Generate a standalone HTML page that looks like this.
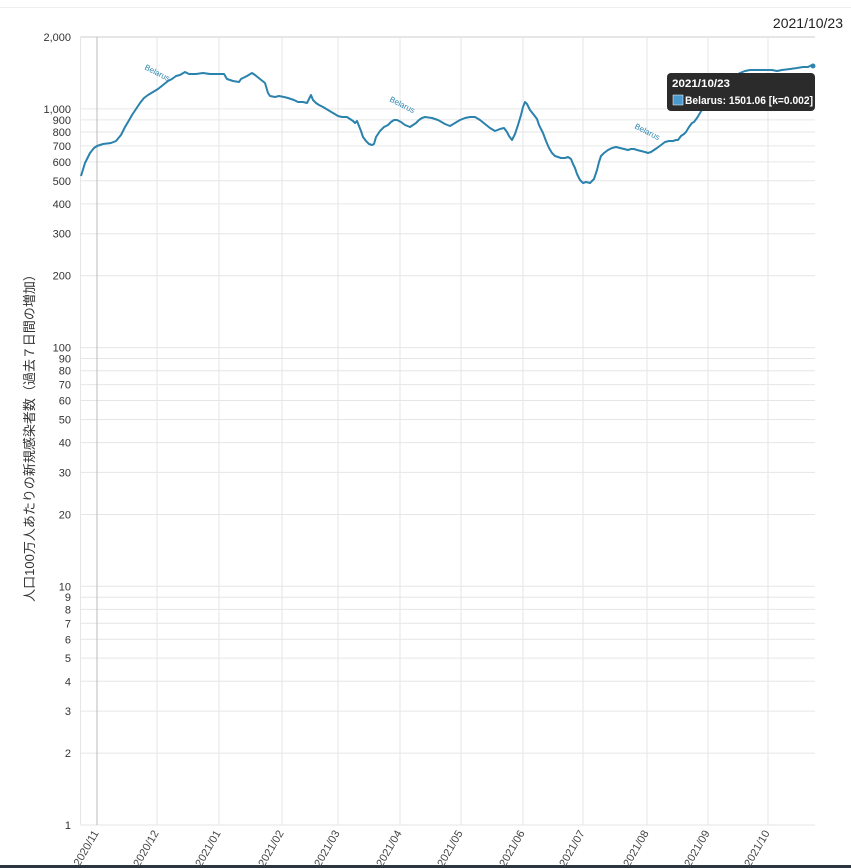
<!DOCTYPE html>
<html><head><meta charset="utf-8"><style>
html,body{margin:0;padding:0;background:#fff;width:851px;height:868px;overflow:hidden;font-family:"Liberation Sans","Noto Sans CJK JP",sans-serif}
svg{position:absolute;left:0;top:0}
</style></head><body>
<svg id="c" width="851" height="868" xmlns="http://www.w3.org/2000/svg" font-family="Liberation Sans, Noto Sans CJK JP, sans-serif">
<line x1="0" y1="7.5" x2="851" y2="7.5" stroke="#eee"/>
<rect x="0" y="865" width="851" height="3" fill="#2a3540"/>
<text x="843" y="28" font-size="14" text-anchor="end" fill="#222">2021/10/23</text>
<g id="grid"></g>
<text transform="translate(34,435) rotate(-90)" font-size="13" text-anchor="middle" fill="#333">人口100万人あたりの新規感染者数（過去７日間の増加）</text>
<polyline id="ln" fill="none" stroke="#2a82ad" stroke-width="2" stroke-linejoin="round"/>
<text transform="translate(144,69) rotate(27)" font-size="8" fill="#2e86b0">Belarus</text>
<text transform="translate(389,101) rotate(27)" font-size="8" fill="#2e86b0">Belarus</text>
<text transform="translate(634,128) rotate(27)" font-size="8" fill="#2e86b0">Belarus</text>
<circle cx="813" cy="66" r="2.5" fill="#2e86b0"/>
<rect x="667" y="73" width="148" height="38" rx="4" fill="#2b2b2b"/>
<text x="672" y="87" font-size="11" font-weight="bold" fill="#fff" textLength="58" lengthAdjust="spacingAndGlyphs">2021/10/23</text>
<rect x="673" y="95" width="10" height="10" fill="#4a9ad0" stroke="#fff" stroke-width="0.5"/>
<text x="685" y="104" font-size="11" font-weight="bold" fill="#fff" textLength="128" lengthAdjust="spacingAndGlyphs">Belarus: 1501.06 [k=0.002]</text>
</svg>
<script>
var ns="http://www.w3.org/2000/svg",g=document.getElementById("grid");
function el(t,a,txt){var e=document.createElementNS(ns,t);for(var k in a)e.setAttribute(k,a[k]);if(txt)e.textContent=txt;g.appendChild(e);return e;}
function Y(v){return 825-Math.log10(v)*238.7;}
var L=80.5,R=815;
var vals=[2000,1000,900,800,700,600,500,400,300,200,100,90,80,70,60,50,40,30,20,10,9,8,7,6,5,4,3,2,1];
vals.forEach(function(v){var y=Y(v);el("line",{x1:L,x2:R,y1:y,y2:y,stroke:v==2000?"#ccc":"#e6e6e6"});
el("text",{x:71,y:y+4,"font-size":11,"text-anchor":"end",fill:"#333"},v>=1000?v.toLocaleString("en-US"):String(v));});
el("line",{x1:L,x2:L,y1:37,y2:825,stroke:"#e6e6e6"});
var xs=[97,157,219,282,338,400,461,523,583,647,708,768],lb=["2020/11","2020/12","2021/01","2021/02","2021/03","2021/04","2021/05","2021/06","2021/07","2021/08","2021/09","2021/10"];
xs.forEach(function(x,i){el("line",{x1:x,x2:x,y1:37,y2:825,stroke:i==0?"#bbb":"#e6e6e6"});
el("text",{transform:"translate("+(x+2)+",833) rotate(-60)","font-size":11,"text-anchor":"end",fill:"#444"},lb[i]);});
var p=[[81,176],[85,163],[90,153],[94,148],[97,146],[103,144],[111,143],[116,141],[121,135],[125,127],[128,122],[132,115],[136,109],[140,103],[144,98],[148,95],[153,92],[158,89],[163,85],[168,81],[172,79],[176,76],[180,75],[185,72],[189,74],[196,74],[203,73],[210,74],[216,74],[224,74],[227,79],[233,81],[239,82],[241,79],[247,76],[252,73],[255,75],[260,79],[265,83],[268,93],[270,96],[275,97],[279,96],[284,97],[288,98],[294,100],[298,102],[303,102],[307,103],[309,99],[311,95],[313,100],[316,103],[319,105],[323,107],[328,110],[333,113],[338,116],[342,117],[347,117],[350,119],[353,121],[355,123],[357,121],[359,126],[361,131],[363,137],[366,141],[369,144],[372,145],[374,144],[376,137],[380,131],[384,127],[388,125],[391,122],[394,120],[397,120],[401,122],[405,125],[410,127],[413,125],[416,123],[419,120],[422,118],[425,117],[432,118],[438,120],[445,124],[450,126],[455,123],[460,120],[465,118],[470,117],[475,117],[480,120],[485,124],[490,128],[495,131],[500,129],[504,128],[507,132],[509,136],[512,140],[515,134],[518,125],[521,115],[523,107],[525,102],[527,104],[530,110],[534,115],[537,119],[539,125],[543,133],[546,141],[549,148],[552,153],[555,156],[558,157],[561,158],[565,158],[568,157],[571,159],[573,164],[575,168],[577,174],[580,180],[583,183],[586,182],[590,183],[594,179],[597,170],[599,162],[601,156],[604,153],[608,150],[612,148],[616,147],[620,148],[624,149],[628,150],[631,149],[634,149],[637,150],[641,151],[645,152],[648,153],[651,152],[654,150],[657,148],[661,145],[665,142],[669,141],[673,141],[676,140],[678,140],[681,136],[684,134],[686,132],[689,127],[692,123],[694,122],[697,118],[700,113],[703,108],[706,104],[710,100],[714,96],[717,93],[720,89],[724,86],[728,83],[733,78],[737,75],[740,73],[745,71],[750,70],[755,70],[760,70],[765,70],[772,70],[777,71],[782,70],[790,69],[797,68],[803,67],[808,67],[812,65],[814,66]];
document.getElementById("ln").setAttribute("points",p.map(function(q){return q.join(",")}).join(" "));
</script>
</body></html>
